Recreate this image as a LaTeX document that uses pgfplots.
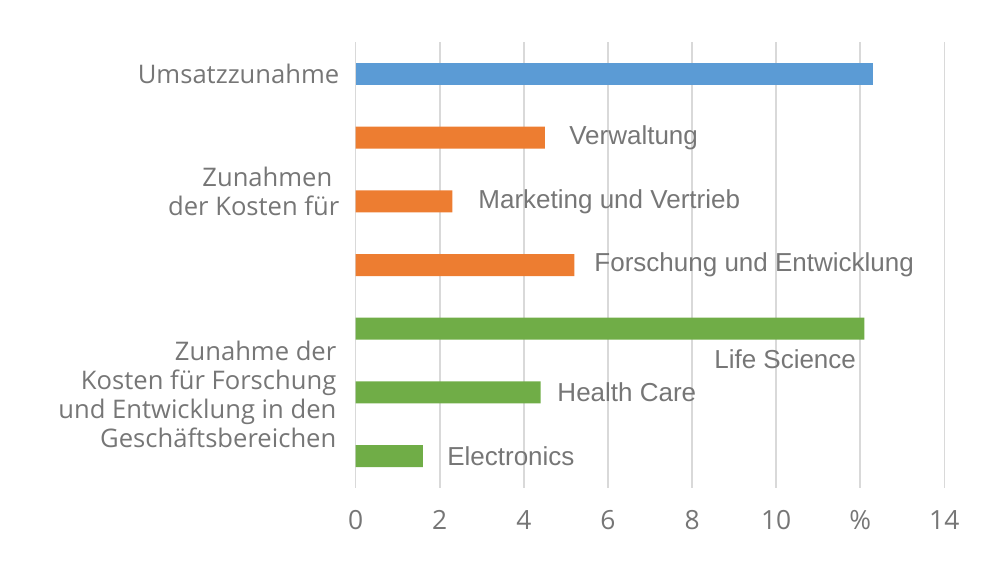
\documentclass[border=0pt]{standalone}
\usepackage{pgfplots}
\pgfplotsset{compat=1.18}
\usepackage{fontspec}
\setmainfont{Open Sans}
\newfontfamily\barfont{Liberation Sans}
\definecolor{myblue}{HTML}{5B9BD5}
\definecolor{myorange}{HTML}{ED7D31}
\definecolor{mygreen}{HTML}{70AD47}
\definecolor{gridgray}{HTML}{D9D9D9}
\definecolor{txtgray}{HTML}{767676}
\begin{document}
\begin{tikzpicture}
\useasboundingbox (-177.85pt,-50pt) rectangle (322.15pt,244pt);
\begin{axis}[
  at={(0,0)}, anchor=south west,
  scale only axis, width=294.3pt, height=223pt,
  xmin=0, xmax=14, ymin=-0.5, ymax=6.5,
  xbar, bar width=11pt, bar shift=0pt,
  xtick={0,2,4,6,8,10,12,14},
  xticklabels={0,2,4,6,8,10,\%,14},
  xmajorgrids, grid style={draw=gridgray, line width=0.8pt},
  axis line style={draw=none},
  ytick=\empty, major tick length=0pt,
  xticklabel style={text=txtgray, font=\fontsize{13.2}{15}\selectfont, anchor=center, yshift=-16pt},
  clip=false,
]
\addplot[fill=myblue, draw=none] coordinates {(12.3,6)};
\addplot[fill=myorange, draw=none] coordinates {(4.5,5) (2.3,4) (5.2,3)};
\addplot[fill=mygreen, draw=none] coordinates {(12.1,2) (4.4,1) (1.6,0)};

\node[anchor=east, inner sep=0pt, text=txtgray, font=\fontsize{12.8}{14.5}\selectfont, xshift=-8pt] at (axis cs:0,6) {Umsatzzunahme};
\node[anchor=east, align=right, inner sep=0pt, text=txtgray, font=\fontsize{12.8}{14.5}\selectfont, xshift=-8pt] at (axis cs:0,4.15) {Zunahmen\hspace*{3.5pt}\\der Kosten für};
\node[anchor=east, align=right, inner sep=0pt, text=txtgray, font=\fontsize{12.8}{14.5}\selectfont, xshift=-9.5pt] at (axis cs:0,0.97) {Zunahme der\\Kosten für Forschung\\und Entwicklung in den\\Geschäftsbereichen};

\node[anchor=west, inner sep=0pt, text=txtgray, font=\barfont\fontsize{13}{15}\selectfont] at (axis cs:5.07,5) {Verwaltung};
\node[anchor=west, inner sep=0pt, text=txtgray, font=\barfont\fontsize{13}{15}\selectfont] at (axis cs:2.91,4) {Marketing und Vertrieb};
\node[anchor=west, inner sep=0pt, text=txtgray, font=\barfont\fontsize{13}{15}\selectfont] at (axis cs:5.67,3) {Forschung und Entwicklung};
\node[anchor=west, inner sep=0pt, text=txtgray, font=\barfont\fontsize{13}{15}\selectfont] at (axis cs:8.52,1.52) {Life Science};
\node[anchor=west, inner sep=0pt, text=txtgray, font=\barfont\fontsize{13}{15}\selectfont] at (axis cs:4.79,1) {Health Care};
\node[anchor=west, inner sep=0pt, text=txtgray, font=\barfont\fontsize{13}{15}\selectfont] at (axis cs:2.17,0) {Electronics};
\end{axis}
\end{tikzpicture}
\end{document}
